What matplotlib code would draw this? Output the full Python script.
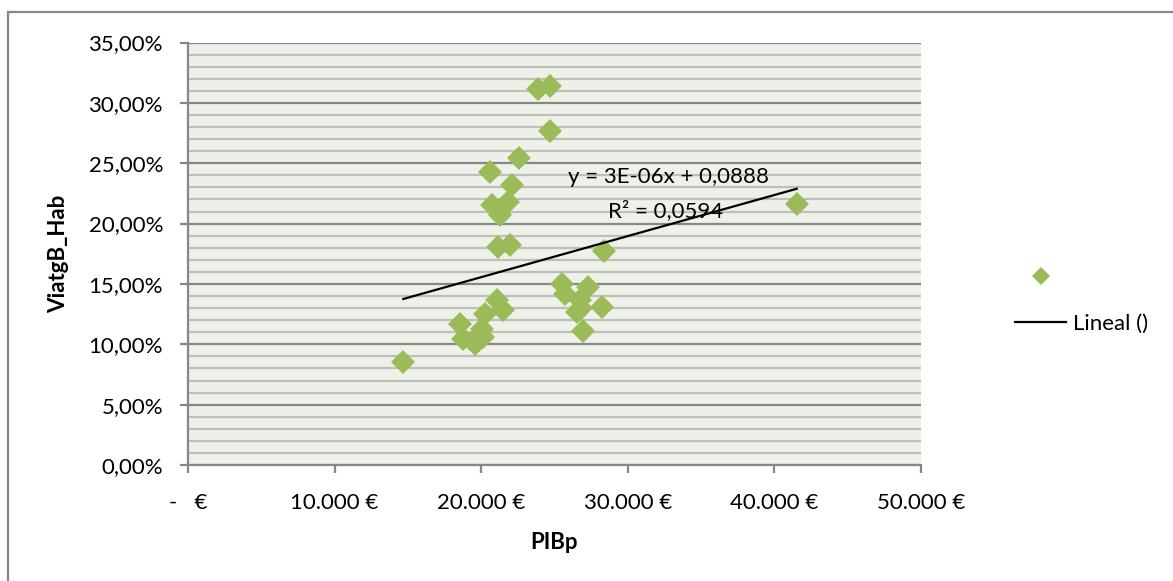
import numpy as np
import matplotlib
matplotlib.use("Agg")
import matplotlib.pyplot as plt
from matplotlib.lines import Line2D
from matplotlib.patches import Rectangle
from matplotlib.ticker import MultipleLocator, FixedLocator

# ---- data (the last three points are estimated
#      as hidden under the overlapping diamonds of the lower clusters) ----
pib = [14690, 23890, 24690, 24690, 22600, 20600, 22080, 20720, 21850, 21280,
       21170, 21960, 28380, 41520, 25490, 27310, 25720, 26740, 28220, 26510,
       26960, 21060, 21510, 20260, 18550, 20030, 18780, 19580, 20140,
       19900, 19700, 26800]
viatg = [0.0857, 0.3117, 0.3138, 0.2771, 0.2545, 0.2426, 0.2316, 0.2150, 0.2177, 0.2067,
         0.1810, 0.1824, 0.1771, 0.2164, 0.1501, 0.1473, 0.1418, 0.1363, 0.1307, 0.1266,
         0.1114, 0.1363, 0.1286, 0.1253, 0.1170, 0.1128, 0.1046, 0.1004, 0.1059,
         0.1080, 0.1050, 0.1300]
x_ticks = [0, 10000, 20000, 30000, 40000, 50000]
x_tick_labels = ["-   €", "10.000 €", "20.000 €", "30.000 €", "40.000 €", "50.000 €"]
y_ticks = [0, 0.05, 0.10, 0.15, 0.20, 0.25, 0.30, 0.35]
y_tick_labels = ["0,00%", "5,00%", "10,00%", "15,00%", "20,00%", "25,00%", "30,00%", "35,00%"]
eq_text = "y = 3E-06x + 0,0888"
r2_text = "R² = 0,0594"
x_title = "PIBp"
y_title = "ViatgB_Hab"
trend_label = "Lineal ()"

W, H = 1173, 581
plt.rcParams['font.family'] = ['Lato', 'DejaVu Sans']
FS = 16

fig = plt.figure(figsize=(W / 100, H / 100), dpi=100)
fig.patch.set_facecolor("white")

L, R, T, B = 188, 921, 42.5, 465
ax = fig.add_axes([L / W, 1 - B / H, (R - L) / W, (B - T) / H])
ax.set_facecolor("#EEF1E8")

ax.set_xlim(0, 50000)
ax.set_ylim(0, 0.35)
ax.xaxis.set_major_locator(FixedLocator(x_ticks))
ax.set_xticklabels(x_tick_labels)
ax.yaxis.set_major_locator(FixedLocator(y_ticks))
ax.set_yticklabels(y_tick_labels)
ax.yaxis.set_minor_locator(MultipleLocator(0.01))

ax.grid(True, which="minor", axis="y", color="#BEBEBE", linewidth=1.6, zorder=0)
ax.grid(True, which="major", axis="y", color="#878787", linewidth=1.6, zorder=0)
ax.set_axisbelow(True)

for s in ["top", "right"]:
    ax.spines[s].set_visible(False)
for s in ["left", "bottom"]:
    ax.spines[s].set_color("#878787")
    ax.spines[s].set_linewidth(1.6)

ax.tick_params(axis="both", which="major", direction="out", length=6, width=1.6,
               color="#878787", labelsize=FS)
ax.tick_params(axis="y", which="minor", length=0)
ax.tick_params(axis="y", which="major", pad=12)
ax.tick_params(axis="x", which="major", pad=14)

ax.plot(pib, viatg, linestyle="none", marker="D", markersize=12.5,
        color="#9BBB59", markeredgewidth=0, zorder=3)

# linear trend line fitted from the data
coef = np.polyfit(pib, viatg, 1)
xs = np.array([min(pib), max(pib)])
ax.plot(xs, np.polyval(coef, xs), color="black", linewidth=1.6, zorder=4)

ax.set_xlabel(x_title, fontsize=FS, fontweight="bold", labelpad=14)
ax.set_ylabel(y_title, fontsize=FS, fontweight="bold", labelpad=14)

fig.text(668 / W, 1 - 177 / H, eq_text, fontsize=FS, ha="center", va="center")
fig.text(666 / W, 1 - 211 / H, r2_text, fontsize=FS, ha="center", va="center")

# legend
h1 = Line2D([], [], linestyle="none", marker="D", markersize=9,
            color="#9BBB59", markeredgewidth=0)
h2 = Line2D([], [], color="black", linewidth=1.6)
fig.legend([h1, h2], [" ", trend_label], loc="upper left",
           bbox_to_anchor=(1015 / W, 1 - 268 / H), frameon=False, fontsize=FS,
           borderpad=0, borderaxespad=0, handlelength=2.3, handletextpad=0.3,
           labelspacing=1.15)

# outer chart border (only left and top edges fall inside the picture)
fig.add_artist(Rectangle((8 / W, -0.2), 1.2, 1 - 12 / H + 0.2, transform=fig.transFigure,
                         fill=False, edgecolor="#878787", linewidth=1.6))

fig.savefig("out.png", dpi=100)
